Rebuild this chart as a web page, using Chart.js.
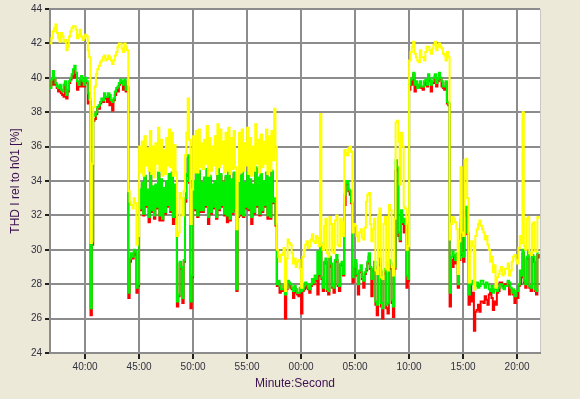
<!DOCTYPE html>
<html>
<head>
<meta charset="utf-8">
<title>THD I rel to h01</title>
<script src="https://cdn.jsdelivr.net/npm/chart.js@4.4.1/dist/chart.umd.min.js"></script>
<style>
  html, body { margin: 0; padding: 0; background: #ECE9D8; }
  #wrap { width: 580px; height: 399px; }
</style>
</head>
<body>
<div id="wrap"><canvas id="myChart" width="580" height="399"></canvas></div>
<script>
// time axis: minutes counted on from 36:45, one sample every 7.5 s
const startMin = 36.75;
const stepMin = 0.125;
const xTicks = [40, 45, 50, 55, 60, 65, 70, 75, 80];
const yTicks = [24, 26, 28, 30, 32, 34, 36, 38, 40, 42, 44];

const yellowVals = [
  42.0, 42.3, 42.7, 42.9, 43.1, 42.6, 42.3, 42.1, 42.6, 42.4,
  42.1, 42.2, 41.6, 41.8, 42.4, 42.7, 42.9, 43.0, 43.0, 42.8,
  42.3, 42.5, 42.8, 42.4, 42.2, 42.3, 42.5, 42.4, 41.6, 41.2,
  30.4, 35.0, 38.3, 39.5, 40.2, 40.5, 40.7, 40.9, 41.0, 41.2,
  41.3, 41.0, 41.1, 41.3, 41.2, 41.0, 40.8, 41.0, 41.3, 41.5,
  41.8, 42.0, 42.0, 41.7, 41.5, 42.0, 41.8, 41.6, 33.4, 32.8,
  32.6, 32.4, 33.0, 32.7, 30.3, 30.8, 36.0, 34.5, 36.3, 34.3,
  36.6, 34.9, 35.9, 34.6, 36.9, 34.4, 36.0, 34.2, 36.2, 35.0,
  37.1, 34.6, 36.4, 34.3, 35.8, 34.4, 36.5, 34.9, 37.0, 34.8,
  36.8, 34.3, 36.1, 34.5, 30.8, 31.0, 33.3, 33.0, 32.0, 33.4,
  35.5, 36.8, 38.8, 36.4, 31.5, 33.5, 36.6, 34.5, 36.9, 34.5,
  37.0, 34.8, 36.2, 34.7, 36.4, 35.0, 37.2, 34.3, 36.5, 34.6,
  36.0, 34.9, 36.6, 34.4, 37.3, 34.8, 37.0, 35.0, 36.3, 34.5,
  36.8, 34.6, 37.1, 34.4, 36.5, 34.7, 36.9, 34.8, 31.2, 34.0,
  36.8, 34.5, 37.0, 34.6, 36.2, 34.9, 37.1, 34.4, 36.5, 34.3,
  36.0, 34.6, 37.3, 35.0, 36.4, 34.5, 36.7, 34.8, 36.3, 35.0,
  37.0, 34.4, 36.6, 34.6, 36.9, 35.2, 38.2, 36.0, 30.0, 29.6,
  29.3, 29.7, 29.8, 30.1, 27.6, 29.5, 30.6, 30.4, 30.3, 29.8,
  29.2, 29.5, 29.0, 29.3, 29.4, 28.9, 27.8, 29.6, 30.0, 30.3,
  30.5, 30.1, 30.2, 30.6, 30.9, 30.5, 30.4, 30.8, 30.7, 30.2,
  37.9, 30.3, 30.0, 31.4, 31.8, 29.8, 29.6, 31.9, 31.5, 29.9,
  29.8, 31.7, 32.0, 30.3, 30.2, 31.8, 31.6, 30.8, 35.8, 35.6,
  35.5, 35.9, 36.0, 35.7, 31.0, 31.5, 31.4, 30.8, 30.5, 31.0,
  31.2, 30.7, 30.6, 31.3, 32.8, 33.2, 33.3, 31.5, 30.5, 31.2,
  31.8, 28.8, 28.6, 32.0, 32.4, 28.4, 28.3, 31.5, 31.9, 28.9,
  28.8, 32.6, 32.3, 29.0, 28.5, 31.8, 37.4, 37.5, 36.3, 33.8,
  36.8, 36.0, 32.5, 32.4, 30.0, 30.2, 41.0, 41.5, 41.8, 42.1,
  41.4, 41.2, 41.0, 40.9, 41.6, 41.2, 41.2, 41.0, 41.5, 41.8,
  41.8, 41.6, 41.4, 41.7, 41.9, 42.1, 41.6, 41.8, 42.0, 41.8,
  41.7, 41.4, 41.3, 41.0, 41.5, 41.2, 30.6, 31.5, 31.9, 31.8,
  31.6, 31.2, 28.6, 30.5, 34.8, 31.0, 30.8, 35.2, 35.3, 33.0,
  28.1, 29.9, 30.5, 30.2, 27.7, 30.8, 31.2, 31.5, 31.7, 31.4,
  31.2, 31.0, 30.6, 30.8, 30.3, 30.0, 29.3, 29.6, 28.7, 29.1,
  27.8, 28.4, 28.6, 28.8, 29.0, 28.5, 28.6, 28.9, 28.9, 29.2,
  28.5, 28.8, 29.3, 29.6, 29.7, 29.4, 29.2, 30.1, 30.8, 30.4,
  38.0, 30.2, 30.0, 31.8, 31.9, 29.8, 29.7, 31.5, 31.6, 29.9,
  29.9, 31.9, 31.8
];

const greenVals = [
  39.4, 39.9, 40.4, 40.0, 39.7, 39.5, 39.4, 39.6, 39.3, 39.2,
  39.6, 39.8, 39.0, 39.3, 39.8, 40.0, 40.2, 40.5, 40.7, 40.3,
  39.8, 39.6, 39.9, 40.1, 39.8, 39.6, 40.0, 39.8, 39.1, 38.8,
  26.6, 30.5, 37.9, 37.8, 38.0, 38.3, 38.4, 38.6, 38.8, 38.7,
  39.1, 38.9, 38.9, 39.1, 39.0, 38.7, 38.6, 38.8, 39.2, 39.4,
  39.5, 39.7, 39.9, 39.8, 39.6, 39.9, 39.3, 39.5, 27.5, 29.5,
  29.8, 29.6, 30.0, 29.9, 27.8, 28.0, 33.5, 32.4, 33.9, 32.1,
  34.3, 32.6, 33.5, 31.9, 34.6, 32.3, 33.7, 32.0, 33.8, 32.5,
  34.5, 32.0, 34.1, 31.8, 33.6, 32.2, 34.0, 32.6, 34.4, 32.3,
  34.5, 31.9, 33.8, 32.0, 27.0, 27.4, 29.3, 29.0, 27.2, 29.4,
  33.0, 34.4, 35.5, 34.0, 27.0, 28.5, 34.0, 32.4, 34.5, 32.0,
  34.6, 32.3, 33.9, 32.3, 34.2, 32.6, 34.7, 31.9, 34.3, 32.2,
  33.8, 32.5, 34.0, 31.9, 34.8, 32.4, 34.4, 32.6, 33.9, 32.1,
  34.3, 32.0, 34.6, 31.8, 34.1, 32.2, 34.5, 32.4, 27.7, 32.0,
  34.3, 32.1, 34.6, 32.0, 33.9, 32.5, 34.5, 32.4, 34.1, 31.9,
  33.8, 32.2, 34.8, 32.6, 34.2, 32.1, 34.4, 32.3, 34.0, 32.6,
  34.5, 32.0, 34.2, 31.9, 34.6, 32.8, 33.0, 31.5, 28.0, 28.2,
  27.9, 27.7, 27.7, 28.0, 27.4, 27.8, 28.2, 28.1, 28.0, 27.8,
  27.6, 27.9, 27.7, 27.5, 27.5, 27.8, 27.6, 27.7, 27.9, 28.1,
  28.0, 27.8, 27.7, 28.0, 28.3, 28.1, 28.5, 28.3, 29.9, 28.6,
  30.4, 28.4, 27.8, 29.3, 29.5, 27.7, 27.6, 29.6, 29.2, 27.9,
  27.8, 29.4, 29.7, 28.0, 27.9, 29.2, 29.3, 28.6, 33.2, 33.9,
  34.0, 33.5, 33.4, 32.8, 28.4, 29.0, 29.4, 28.6, 28.0, 28.8,
  29.1, 28.4, 28.2, 28.7, 28.9, 29.3, 29.8, 29.0, 28.3, 28.9,
  29.3, 27.0, 26.8, 29.2, 29.5, 26.9, 26.6, 28.8, 28.9, 26.8,
  26.9, 29.4, 29.2, 27.1, 26.7, 29.0, 35.2, 34.8, 31.0, 30.6,
  32.3, 31.6, 31.8, 31.5, 28.5, 28.3, 39.6, 39.9, 40.0, 40.3,
  39.6, 39.8, 39.4, 39.6, 39.8, 39.5, 39.5, 39.8, 39.9, 39.6,
  40.2, 39.9, 39.6, 39.8, 40.0, 40.2, 39.7, 39.9, 40.3, 40.0,
  39.8, 39.5, 39.5, 39.8, 38.6, 38.5, 27.5, 29.6, 29.9, 29.7,
  29.4, 29.8, 28.0, 29.5, 31.8, 29.8, 29.6, 32.4, 32.5, 31.0,
  27.4, 28.0, 28.0, 28.2, 27.7, 27.9, 28.1, 27.8, 27.9, 28.2,
  28.2, 28.0, 27.8, 28.1, 28.0, 27.7, 27.6, 27.9, 27.5, 27.7,
  27.9, 27.6, 27.8, 28.0, 28.0, 27.8, 27.7, 27.9, 27.9, 28.2,
  28.1, 27.8, 27.5, 27.7, 27.3, 27.6, 27.6, 28.0, 28.8, 28.5,
  30.0, 28.2, 28.0, 29.6, 29.9, 27.9, 27.8, 29.7, 29.6, 27.7,
  27.6, 29.8, 29.8
];

const redVals = [
  39.5, 39.8, 39.6, 39.9, 39.6, 39.4, 39.2, 39.5, 39.1, 39.0,
  38.9, 39.7, 38.8, 39.2, 39.7, 39.9, 40.0, 40.4, 40.0, 40.2,
  39.3, 39.5, 39.5, 40.0, 39.5, 39.5, 39.7, 39.7, 38.5, 38.6,
  26.2, 30.3, 37.5, 37.6, 37.9, 38.2, 38.2, 38.5, 38.6, 38.6,
  38.8, 38.8, 38.6, 39.0, 38.4, 38.6, 38.1, 38.7, 39.0, 39.3,
  39.2, 39.6, 39.7, 39.7, 39.3, 39.8, 39.2, 39.4, 27.2, 29.3,
  29.6, 29.5, 29.7, 29.8, 27.5, 27.9, 33.0, 32.3, 33.8, 32.0,
  34.2, 32.5, 33.4, 31.6, 34.5, 32.2, 33.6, 31.8, 33.7, 32.4,
  34.4, 31.7, 34.0, 31.7, 33.5, 32.1, 33.9, 32.5, 34.3, 32.2,
  34.4, 31.5, 33.7, 31.9, 26.7, 27.3, 29.2, 28.9, 26.9, 29.3,
  32.8, 34.3, 35.3, 33.9, 26.6, 28.4, 33.8, 32.3, 34.4, 31.9,
  34.5, 32.2, 33.8, 32.2, 34.1, 32.5, 34.6, 31.5, 34.2, 32.1,
  33.7, 32.4, 33.9, 31.8, 34.7, 32.3, 34.3, 32.5, 33.8, 32.0,
  34.2, 31.6, 34.5, 31.7, 34.0, 32.1, 34.4, 32.3, 27.6, 31.9,
  34.2, 32.0, 34.5, 31.9, 33.8, 32.4, 34.4, 32.3, 34.0, 31.5,
  33.7, 32.1, 34.7, 32.5, 34.1, 32.0, 34.3, 32.2, 33.9, 32.5,
  34.4, 31.8, 34.1, 31.8, 34.5, 32.7, 32.8, 31.4, 27.9, 28.1,
  27.5, 27.6, 27.6, 27.9, 26.0, 27.7, 28.0, 28.0, 27.8, 27.7,
  27.2, 27.8, 27.5, 27.4, 27.3, 27.7, 26.3, 27.6, 27.7, 28.0,
  27.8, 27.7, 27.5, 27.9, 28.1, 28.0, 28.3, 28.2, 27.4, 28.5,
  30.2, 28.3, 27.6, 29.2, 29.3, 27.6, 27.4, 29.5, 29.0, 27.8,
  27.5, 29.3, 29.4, 27.9, 27.6, 29.1, 29.1, 28.5, 32.6, 33.8,
  33.8, 33.4, 33.2, 32.7, 28.1, 28.9, 29.2, 28.5, 27.4, 28.7,
  28.7, 28.3, 27.8, 28.6, 28.8, 29.2, 29.6, 28.9, 27.3, 28.8,
  29.0, 26.8, 26.2, 29.1, 29.2, 26.7, 26.0, 28.7, 28.6, 26.6,
  26.3, 29.3, 28.9, 26.9, 26.1, 28.9, 34.6, 34.7, 30.8, 30.5,
  32.0, 31.5, 31.0, 31.4, 27.8, 28.2, 39.3, 39.8, 39.6, 40.2,
  39.2, 39.7, 39.4, 39.5, 39.5, 39.4, 39.3, 39.7, 39.6, 39.5,
  39.9, 39.8, 39.2, 39.7, 39.7, 40.1, 39.5, 39.8, 40.0, 39.9,
  39.5, 39.4, 39.3, 39.7, 38.5, 38.4, 26.7, 29.4, 29.0, 29.6,
  29.2, 29.7, 27.8, 29.4, 31.5, 29.7, 29.3, 32.3, 32.0, 30.9,
  26.8, 27.9, 27.0, 27.5, 25.3, 26.4, 26.5, 26.8, 26.4, 27.0,
  27.0, 26.9, 27.3, 27.1, 26.8, 27.4, 27.6, 27.2, 26.5, 27.0,
  26.8, 27.5, 27.6, 28.1, 28.1, 27.9, 27.8, 28.0, 28.0, 28.1,
  27.4, 27.7, 27.6, 27.4, 26.9, 27.2, 27.2, 27.9, 28.0, 28.4,
  29.8, 28.1, 27.8, 29.5, 29.5, 27.8, 27.6, 29.6, 29.3, 27.6,
  27.4, 29.7, 29.5
];

function toPoints(vals) {
    return vals.map((v, i) => ({ x: startMin + i * stepMin, y: v }));
}

function mmss(v) {
    let m = Math.round(v) % 60;
    return (m < 10 ? "0" + m : "" + m) + ":00";
}

// beige window, white plot area
const plotBg = {
    id: "plotBg",
    beforeDraw(chart) {
        const ctx = chart.ctx;
        const a = chart.chartArea;
        ctx.save();
        ctx.fillStyle = "#ECE9D8";
        ctx.fillRect(0, 0, chart.width, chart.height);
        ctx.fillStyle = "#FFFFFF";
        ctx.fillRect(a.left, a.top, a.right - a.left, a.bottom - a.top);
        ctx.strokeStyle = "#C8C8C8";
        ctx.lineWidth = 1;
        ctx.beginPath();
        ctx.moveTo(a.right + 0.5, a.top);
        ctx.lineTo(a.right + 0.5, a.bottom);
        ctx.stroke();
        ctx.restore();
    }
};

const lineStyle = { pointRadius: 0, borderWidth: 2, stepped: true, fill: false };

new Chart("myChart", {
    type: "line",
    data: {
        datasets: [
            Object.assign({ label: "L3", data: toPoints(yellowVals), borderColor: "#FFFF00" }, lineStyle),
            Object.assign({ label: "L2", data: toPoints(greenVals), borderColor: "#00F000" }, lineStyle),
            Object.assign({ label: "L1", data: toPoints(redVals), borderColor: "#FF0000" }, lineStyle)
        ]
    },
    options: {
        responsive: false,
        animation: false,
        devicePixelRatio: 1,
        layout: { padding: { top: 9, right: 40, left: 0, bottom: 0 } },
        plugins: { legend: { display: false }, tooltip: { enabled: false } },
        scales: {
            x: {
                type: "linear",
                min: startMin,
                max: 82.12,
                afterFit: (s) => { s.height = 46; },
                afterBuildTicks: (s) => { s.ticks = xTicks.map(v => ({ value: v })); },
                grid: { color: "#8C8C8C", lineWidth: 2, tickLength: 6, tickColor: "#202020", tickWidth: 2 },
                border: { display: true, color: "#8C8C8C", width: 2 },
                ticks: {
                    includeBounds: false,
                    maxRotation: 0,
                    padding: 2,
                    color: "#303040",
                    font: { family: "Liberation Sans, Arial, sans-serif", size: 10 },
                    callback: (v) => mmss(v)
                },
                title: {
                    display: true,
                    text: "Minute:Second",
                    color: "#3C1050",
                    padding: { top: 0, bottom: 8 },
                    font: { family: "Liberation Sans, Arial, sans-serif", size: 12 }
                }
            },
            y: {
                min: 24,
                max: 44,
                afterFit: (s) => { s.width = 50; },
                afterBuildTicks: (s) => { s.ticks = yTicks.map(v => ({ value: v })); },
                grid: { color: "#8C8C8C", lineWidth: 2, tickLength: 5, tickColor: "#202020", tickWidth: 2 },
                border: { display: true, color: "#8C8C8C", width: 2 },
                ticks: {
                    padding: 3,
                    color: "#303040",
                    font: { family: "Liberation Sans, Arial, sans-serif", size: 10 }
                },
                title: {
                    display: true,
                    text: "THD I rel to h01 [%]",
                    color: "#3C1050",
                    padding: { top: 8, bottom: 0 },
                    font: { family: "Liberation Sans, Arial, sans-serif", size: 12 }
                }
            }
        }
    },
    plugins: [plotBg]
});
</script>
</body>
</html>
